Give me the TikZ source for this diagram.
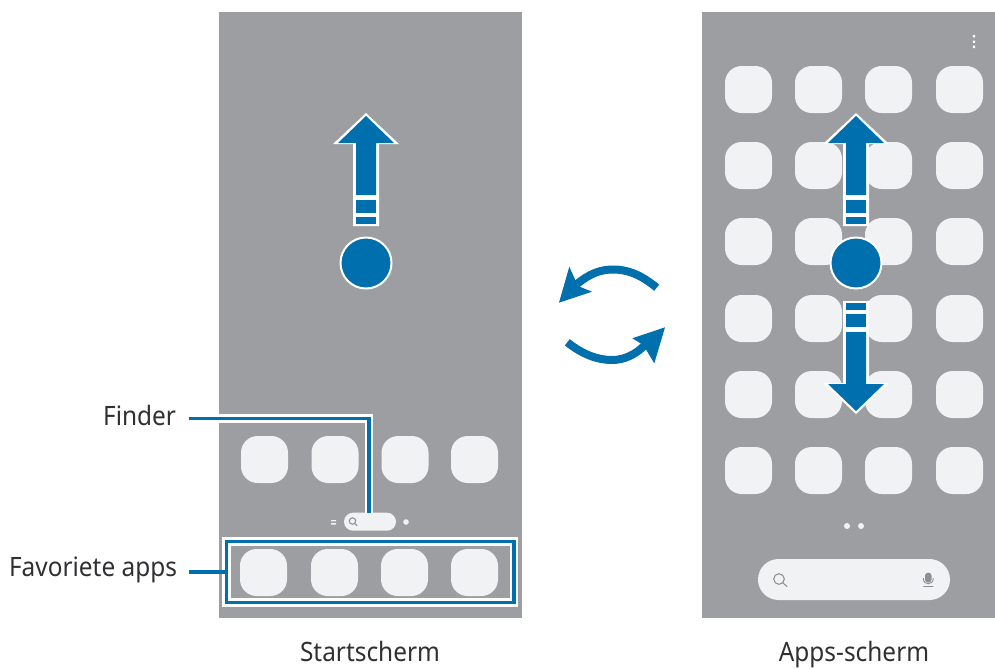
\documentclass[tikz,border=0pt]{standalone}
\usepackage{fontspec}
\setmainfont[FakeStretch=0.915]{Noto Sans}
\definecolor{phonegrey}{HTML}{9D9EA2}
\definecolor{iconfill}{HTML}{F1F2F4}
\definecolor{swipeblue}{HTML}{006FAE}
\definecolor{glyphgrey}{HTML}{8E8F93}
\definecolor{labelgrey}{HTML}{303033}
\tikzset{
  x=0.75pt,y=-0.75pt,
  phone/.style={fill=phonegrey,draw=none},
  appicon/.style={fill=iconfill,draw=none,rounded corners=12.5pt,minimum size=35.25pt,inner sep=0pt,outer sep=0pt},
  pill/.style={fill=iconfill,draw=none,inner sep=0pt,outer sep=0pt},
  dotmark/.style={circle,fill=iconfill,draw=none,inner sep=0pt,minimum size=#1},
  label/.style={font=\fontsize{20}{24}\selectfont,text=labelgrey,inner sep=0pt,outer sep=0pt},
  leadwhite/.style={draw=white,line width=6.6pt,line cap=butt,miter limit=10},
  leadblue/.style={draw=swipeblue,line width=2.5pt,line cap=butt,miter limit=10},
  glyph/.style={draw=glyphgrey,line width=0.8pt,line cap=round},
  swipe/.pic={
    \fill[white] (0,0) -- (33,31) -- (13,31) -- (13,113) -- (-13,113) -- (-13,31) -- (-33,31) -- cycle;
    \fill[swipeblue] (0,3) -- (28,30) -- (10,30) -- (10,82) -- (-10,82) -- (-10,30) -- (-28,30) -- cycle;
    \fill[swipeblue] (-10,87) rectangle (10,100);
    \fill[swipeblue] (-10,104) rectangle (10,111);
  },
  ball/.style={circle,fill=swipeblue,draw=white,line width=1.5pt,minimum size=38.25pt,inner sep=0pt},
  turn/.style={draw=swipeblue,line width=6pt,line cap=butt,fill=none}
}
\begin{document}
\begin{tikzpicture}
\useasboundingbox (0,0) rectangle (995,668);
% phones
\fill[phone] (219,12) rectangle (522,618);
\fill[phone] (702,12) rectangle (995,618);
% left screen icons
\foreach \n/\cx in {1/264.5,2/335,3/405,4/474.5}
  \node[appicon] (home\n) at (\cx,459.5) {};
\foreach \n/\cx in {1/263.5,2/334.5,3/404.5,4/474.5}
  \node[appicon] (fav\n) at (\cx,572.5) {};
% right screen icons
\foreach \r/\cy in {1/89.5,2/165.5,3/241.5,4/318.5,5/394.5,6/470.5}
  \foreach \n/\cx in {1/748.5,2/818.5,3/888.5,4/959.5}
    \node[appicon] (app\r\n) at (\cx,\cy) {};
% left page markers and search pill
\node[pill,rounded corners=6.75pt,minimum width=39pt,minimum height=13.5pt] (finderpill) at (370,521.7) {};
\fill[iconfill] (331,520) rectangle (336,521.4) (331,523.2) rectangle (336,524.6);
\node[dotmark=4.2pt] (homedot) at (406,522) {};
\draw[glyph] (352.5,521) circle[radius=3.2] (354.8,523.4) -- (357,525.6);
% right search pill
\node[pill,rounded corners=15.4pt,minimum width=144pt,minimum height=30.75pt] (appspill) at (854,579.5) {};
\node[dotmark=4.5pt] (page1) at (847,526) {};
\node[dotmark=4.5pt] (page2) at (861,526) {};
\draw[glyph] (779,579) circle[radius=5.3] (783,583) -- (787,586.5);
\fill[glyphgrey,rounded corners=2.2pt] (925,572.7) rectangle (931.5,582.5);
\draw[glyph,line width=0.7pt] (923.3,578.5) .. controls (923.3,585.5) and (933.2,585.5) .. (933.2,578.5);
\draw[glyph,line width=0.7pt] (923.5,586.5) -- (933,586.5);
% menu dots
\fill[white] (972.8,35) rectangle (975.2,37.4) (972.8,40.5) rectangle (975.2,42.9) (972.8,45.6) rectangle (975.2,48);
% swipe arrows
\pic at (366,113) {swipe};
\pic at (856,113) {swipe};
\pic[yscale=-1] at (856,414) {swipe};
\node[ball] (leftball) at (366,263) {};
\node[ball] (rightball) at (856,263) {};
% rotation arrows
\draw[turn] (656.7,287.7) .. controls (640,274) and (627,269.5) .. (613,269.5) .. controls (600,269.5) and (589,274) .. (577,284);
\fill[swipeblue] (559,302.7) -- (569.3,266.7) -- (578,286) -- (592,291.7) -- cycle;
\draw[turn] (567.3,342.3) .. controls (582,354) and (597,360) .. (612,360) .. controls (625,360) and (636,354) .. (645,345);
\fill[swipeblue] (665,327.3) -- (632.3,338.3) -- (643.3,345) -- (654.3,363.3) -- cycle;
% labels
\node[label,anchor=base east] (finderlabel) at (176,425) {Finder};
\node[label,anchor=base east] (favlabel) at (177,576) {Favoriete apps};
\node[label,anchor=base] (startlabel) at (370,661.5) {Startscherm};
\node[label,anchor=base] (appslabel) at (854,661.5) {Apps-scherm};
% leader lines
\coordinate (bend) at (369,418.7);
\coordinate (boxL) at (227,572);
\path[leadwhite] (219,418.7) -- (bend) -- (369,513);
\path[leadwhite] (226.5,541.5) rectangle (514,602.5);
\path[leadblue] (188.5,418.7) -- (bend) -- (finderpill.north -| bend);
\path[leadblue] (226.5,541.5) rectangle (514,602.5);
\path[leadblue] (188.5,572) -- (boxL);
\end{tikzpicture}
\end{document}
